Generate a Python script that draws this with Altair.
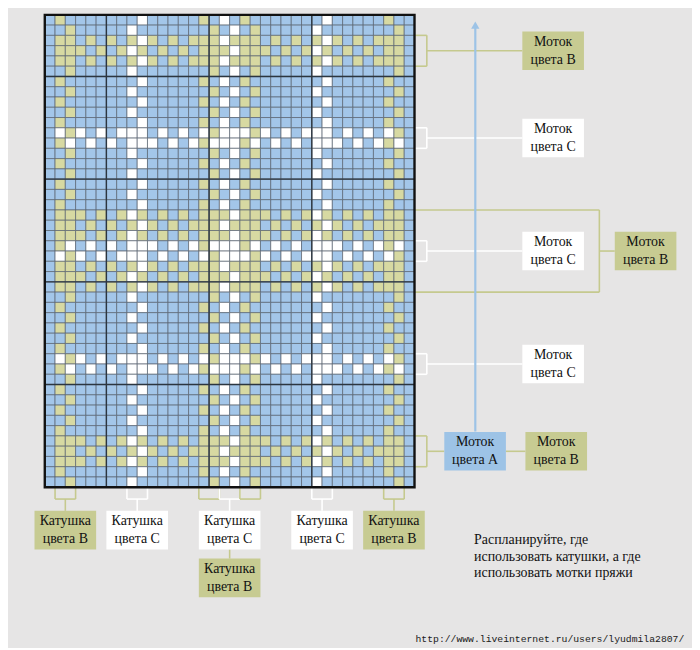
import altair as alt
import pandas as pd

# ---------------- data ----------------
N_COLS = 36
N_ROWS = 46
# '.' = colour A (blue), 'y' = colour B (khaki), 'w' = colour C (white)
ROW_PATTERNS = {
    "PE": ".y.......w.....y.w.y.......w.....y..",
    "PO": "..y.....w.......y.w.y.....w.......y.",
    "YE": ".yy.y.y.ywy.y.yyywyyy.y.y.ywy.y.yyy.",
    "YO": ".yyy.y.ywy.y.y.yyywyyy.y.ywy.y.y.yy.",
    "WE": ".yw.w.w.www.w.wywwwyw.w.w.www.w.wyw.",
    "WO": ".wyw.w.www.w.w.wywwwyw.w.www.w.w.wy.",
}
ROW_TYPES = ["PE", "PO", "YE", "YO", "YE", "PO", "PE", "PO", "PE", "PO",
             "PE", "WO", "WE", "PO", "PE", "PO", "PE", "PO", "PE", "YO",
             "YE", "YO", "WE", "WO", "YE", "YO", "YE", "PO", "PE", "PO",
             "PE", "PO", "PE", "WO", "WE", "PO", "PE", "PO", "PE", "PO",
             "PE", "YO", "YE", "YO", "PE", "PO"]
THICK_COLS = [6, 16, 26]
THICK_ROWS = [6, 16, 26, 36]

# bands marked on the right: (first row, last row + 1, colour)
RIGHT_BANDS = [(2, 5, "B"), (11, 13, "C"), (22, 24, "C"), (33, 35, "C"), (41, 44, "B")]
BIG_BAND = (19, 27, "B")
# bobbin column pairs marked below: (first col, colour)
BOTTOM_PAIRS = [(1, "B"), (8, "C"), (15, "B"), (17, "C"), (19, "B"), (26, "C"), (33, "B")]

RIGHT_LABELS = [("Моток\nцвета В", "B", 3.5, 46.5), ("Моток\nцвета С", "C", 12, 46.5),
                ("Моток\nцвета С", "C", 23, 46.5), ("Моток\nцвета В", "B", 23, 55.5),
                ("Моток\nцвета С", "C", 34, 46.5), ("Моток\nцвета А", "A", 42.5, 38.9),
                ("Моток\nцвета В", "B", 42.5, 46.8)]
BOTTOM_LABELS = [("Катушка\nцвета В", "B", 2, 48.3), ("Катушка\nцвета С", "C", 9, 48.3),
                 ("Катушка\nцвета С", "C", 18, 48.3), ("Катушка\nцвета В", "B", 18, 52.95),
                 ("Катушка\nцвета С", "C", 27, 48.3), ("Катушка\nцвета В", "B", 34, 48.3)]
NOTE_LINES = ["Распланируйте, где", "использовать катушки, а где", "использовать мотки пряжи"]
URL = "http://www.liveinternet.ru/users/lyudmila2807/"

# ---------------- styles ----------------
CELL_COL = {".": "#A3C6E9", "y": "#D7D9A2", "w": "#FFFFFF"}
BOX_COL = {"A": "#9DC3E6", "B": "#C7CB92", "C": "#FFFFFF"}
LINE_COL = {"A": "#9DC3E6", "B": "#C5C98E", "C": "#FFFFFF"}
BG = "#E6E5E5"
SERIF = "'Liberation Serif', 'DejaVu Serif', serif"
CELL_PX = 10.33
W, H = 688, 640
GX0, GY0 = 37, 5

xs = alt.Scale(domain=[-GX0 / CELL_PX, (W - GX0) / CELL_PX], nice=False, zero=False)
ys = alt.Scale(domain=[-GY0 / CELL_PX, (H - GY0) / CELL_PX], nice=False, zero=False, reverse=True)


def X(f):
    return alt.X(f, type="quantitative", scale=xs, axis=None)


def Y(f):
    return alt.Y(f, type="quantitative", scale=ys, axis=None)


assert len(ROW_TYPES) == N_ROWS

# ---------------- cells ----------------
cells = pd.DataFrame([
    {"col": c, "row": r, "c2": c + 1, "r2": r + 1, "fillc": CELL_COL[ch]}
    for r, t in enumerate(ROW_TYPES) for c, ch in enumerate(ROW_PATTERNS[t])
])
cell_layer = alt.Chart(cells).mark_rect(stroke="#5a6470", strokeWidth=0.7).encode(
    x=X("col"), x2="c2", y=Y("row"), y2="r2",
    fill=alt.Fill("fillc:N", scale=None),
)

thick = pd.DataFrame(
    [{"x": c, "x2": c, "y": 0, "y2": N_ROWS} for c in THICK_COLS]
    + [{"x": 0, "x2": N_COLS, "y": r, "y2": r} for r in THICK_ROWS]
)
thick_layer = alt.Chart(thick).mark_rule(color="#2c3640", strokeWidth=1.4).encode(
    x=X("x"), x2="x2", y=Y("y"), y2="y2")

border = pd.DataFrame([{"x": 0, "x2": N_COLS, "y": 0, "y2": N_ROWS}])
border_layer = alt.Chart(border).mark_rect(fillOpacity=0, stroke="#111111", strokeWidth=2.4).encode(
    x=X("x"), x2="x2", y=Y("y"), y2="y2")

# ---------------- annotation lines ----------------
BOX_W = 6.0
BOX_H = 3.75
BR = N_COLS + 1.2   # right bracket depth
segs = []
for (r0, r1, tone) in RIGHT_BANDS:
    segs += [(N_COLS, r0, BR, r0, tone), (BR, r0, BR, r1, tone), (N_COLS, r1, BR, r1, tone)]
for (r0, r1, tone) in RIGHT_BANDS:
    m = (r0 + r1) / 2
    target = [l for l in RIGHT_LABELS if l[2] == m and l[3] < 50][0]
    segs.append((BR, m, target[3], m, tone))
# big khaki bracket
b0, b1, btone = BIG_BAND
BX = 54.0
segs += [(N_COLS, b0, BX, b0, btone), (BX, b0, BX, b1, btone), (N_COLS, b1, BX, b1, btone),
         (BX, (b0 + b1) / 2, 55.5, (b0 + b1) / 2, btone)]
# link between blue and khaki box at the bottom right
segs.append((38.9 + BOX_W, 42.5, 46.8, 42.5, "B"))
# bottom brackets
BB = N_ROWS + 1.15
for (c0, tone) in BOTTOM_PAIRS:
    segs += [(c0, N_ROWS, c0, BB, tone), (c0 + 2, N_ROWS, c0 + 2, BB, tone), (c0, BB, c0 + 2, BB, tone)]
    if c0 not in (15, 19):
        segs.append((c0 + 1, BB, c0 + 1, 48.3, tone))
segs.append((18, 48.3 + BOX_H, 18, 52.95, "B"))
seg_df = pd.DataFrame(segs, columns=["x", "y", "x2", "y2", "tone"])
seg_df["strokec"] = seg_df["tone"].map(LINE_COL)
seg_layer = alt.Chart(seg_df).mark_rule(strokeWidth=1.6).encode(
    x=X("x"), x2="x2", y=Y("y"), y2="y2", color=alt.Color("strokec:N", scale=None))

# arrow
arrow = pd.DataFrame([{"x": 41.92, "y": 40.56, "y2": 1.0}])
arrow_line = alt.Chart(arrow).mark_rule(color=LINE_COL["A"], strokeWidth=2.2).encode(
    x=X("x"), y=Y("y"), y2="y2")
arrow_head = alt.Chart(arrow).mark_point(shape="triangle-up", filled=True, size=70, opacity=1,
                                         color=LINE_COL["A"]).encode(
    x=X("x"), y=alt.Y("y2:Q", scale=ys, axis=None))

# ---------------- boxes ----------------
boxes = []
for (txt, tone, mid, left) in RIGHT_LABELS:
    boxes.append({"x": left, "x2": left + BOX_W, "y": mid - BOX_H / 2, "y2": mid + BOX_H / 2,
                  "cx": left + BOX_W / 2, "cy": mid, "txt": txt, "fillc": BOX_COL[tone]})
for (txt, tone, cc, top) in BOTTOM_LABELS:
    boxes.append({"x": cc - BOX_W / 2, "x2": cc + BOX_W / 2, "y": top, "y2": top + BOX_H,
                  "cx": cc, "cy": top + BOX_H / 2, "txt": txt, "fillc": BOX_COL[tone]})
box_df = pd.DataFrame(boxes)
box_layer = alt.Chart(box_df).mark_rect().encode(
    x=X("x"), x2="x2", y=Y("y"), y2="y2", fill=alt.Fill("fillc:N", scale=None))
box_text = alt.Chart(box_df).mark_text(font=SERIF, fontSize=14, lineBreak="\n",
                                       lineHeight=18, dy=-9, color="#111111", align="center",
                                       baseline="middle").encode(
    x=X("cx"), y=Y("cy"), text="txt:N")

note_df = pd.DataFrame({"t": NOTE_LINES, "x": [41.8] * 3, "y": [51.1, 52.75, 54.4]})
note_layer = alt.Chart(note_df).mark_text(font=SERIF, fontSize=14, align="left",
                                          baseline="middle", color="#111111").encode(
    x=X("x"), y=Y("y"), text="t:N")

url_df = pd.DataFrame({"t": [URL], "x": [36.1], "y": [60.8]})
url_layer = alt.Chart(url_df).mark_text(font="Liberation Mono", fontSize=9.8, align="left",
                                        baseline="middle", color="#202020").encode(
    x=X("x"), y=Y("y"), text="t:N")

chart = alt.layer(
    seg_layer, arrow_line, arrow_head, cell_layer, thick_layer, border_layer,
    box_layer, box_text, note_layer, url_layer,
).properties(
    width=W, height=H, autosize=alt.AutoSizeParams(type="none"), padding=0,
).configure(background=BG).configure_view(stroke=None)

chart.save("out.html", embed_options={"renderer": "svg", "actions": False})
